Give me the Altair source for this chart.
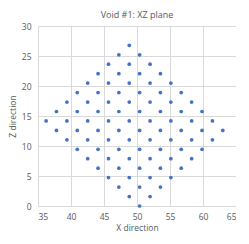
import altair as alt
import pandas as pd

# Point rows: (z level, x positions)
z_levels = [0.0, 1.58, 3.15, 4.73, 6.3, 7.88, 9.45, 11.03, 12.6,
            14.18, 15.75, 17.33, 18.9, 20.48, 22.05, 23.63, 25.2, 26.78]
x_rows = [
    [50.4],
    [48.83, 51.98],
    [47.25, 50.4, 53.55],
    [45.68, 48.83, 51.98, 55.13],
    [44.1, 47.25, 50.4, 53.55, 56.7],
    [42.53, 45.68, 48.83, 51.98, 55.13, 58.28],
    [40.95, 44.1, 47.25, 50.4, 53.55, 56.7, 59.85],
    [39.38, 42.53, 45.68, 48.83, 51.98, 55.13, 58.28, 61.43],
    [37.8, 40.95, 44.1, 47.25, 50.4, 53.55, 56.7, 59.85, 63.0],
    [36.23, 39.38, 42.53, 45.68, 48.83, 51.98, 55.13, 58.28, 61.43],
    [37.8, 40.95, 44.1, 47.25, 50.4, 53.55, 56.7, 59.85],
    [39.38, 42.53, 45.68, 48.83, 51.98, 55.13, 58.28],
    [40.95, 44.1, 47.25, 50.4, 53.55, 56.7],
    [42.53, 45.68, 48.83, 51.98, 55.13],
    [44.1, 47.25, 50.4, 53.55],
    [45.68, 48.83, 51.98],
    [47.25, 50.4],
    [48.83],
]

x_vals, z_vals = [], []
for z, xs in zip(z_levels, x_rows):
    for x in xs:
        x_vals.append(x)
        z_vals.append(z)
df = pd.DataFrame({"x": x_vals, "z": z_vals})

FONT = "Open Sans"
GRAY = "#595959"

chart = alt.Chart(df).mark_circle(size=14, color="#4472C4", opacity=1).encode(
    x=alt.X("x:Q", scale=alt.Scale(domain=[35, 65], nice=False, zero=False),
            axis=alt.Axis(title="X direction", values=[35, 40, 45, 50, 55, 60, 65],
                          labelPadding=6, titlePadding=3)),
    y=alt.Y("z:Q", scale=alt.Scale(domain=[0, 30], nice=False),
            axis=alt.Axis(title="Z direction", values=[0, 5, 10, 15, 20, 25, 30],
                          labelPadding=7, titlePadding=4)),
).properties(
    width=198, height=180,
    title=alt.TitleParams("Void #1: XZ plane", fontSize=9, font=FONT, color=GRAY,
                          fontWeight="normal", offset=2),
    padding={"left": 0, "top": 3, "right": 0, "bottom": 0},
).configure_axis(
    domain=False, ticks=False, grid=True, gridColor="#d9d9d9", gridWidth=1,
    labelFont=FONT, labelFontSize=8.5, labelColor=GRAY,
    titleFont=FONT, titleFontSize=8.5, titleColor=GRAY, titleFontWeight="normal",
).configure_view(stroke=None)

chart.save("out.html", embed_options={"renderer": "svg", "actions": False})
